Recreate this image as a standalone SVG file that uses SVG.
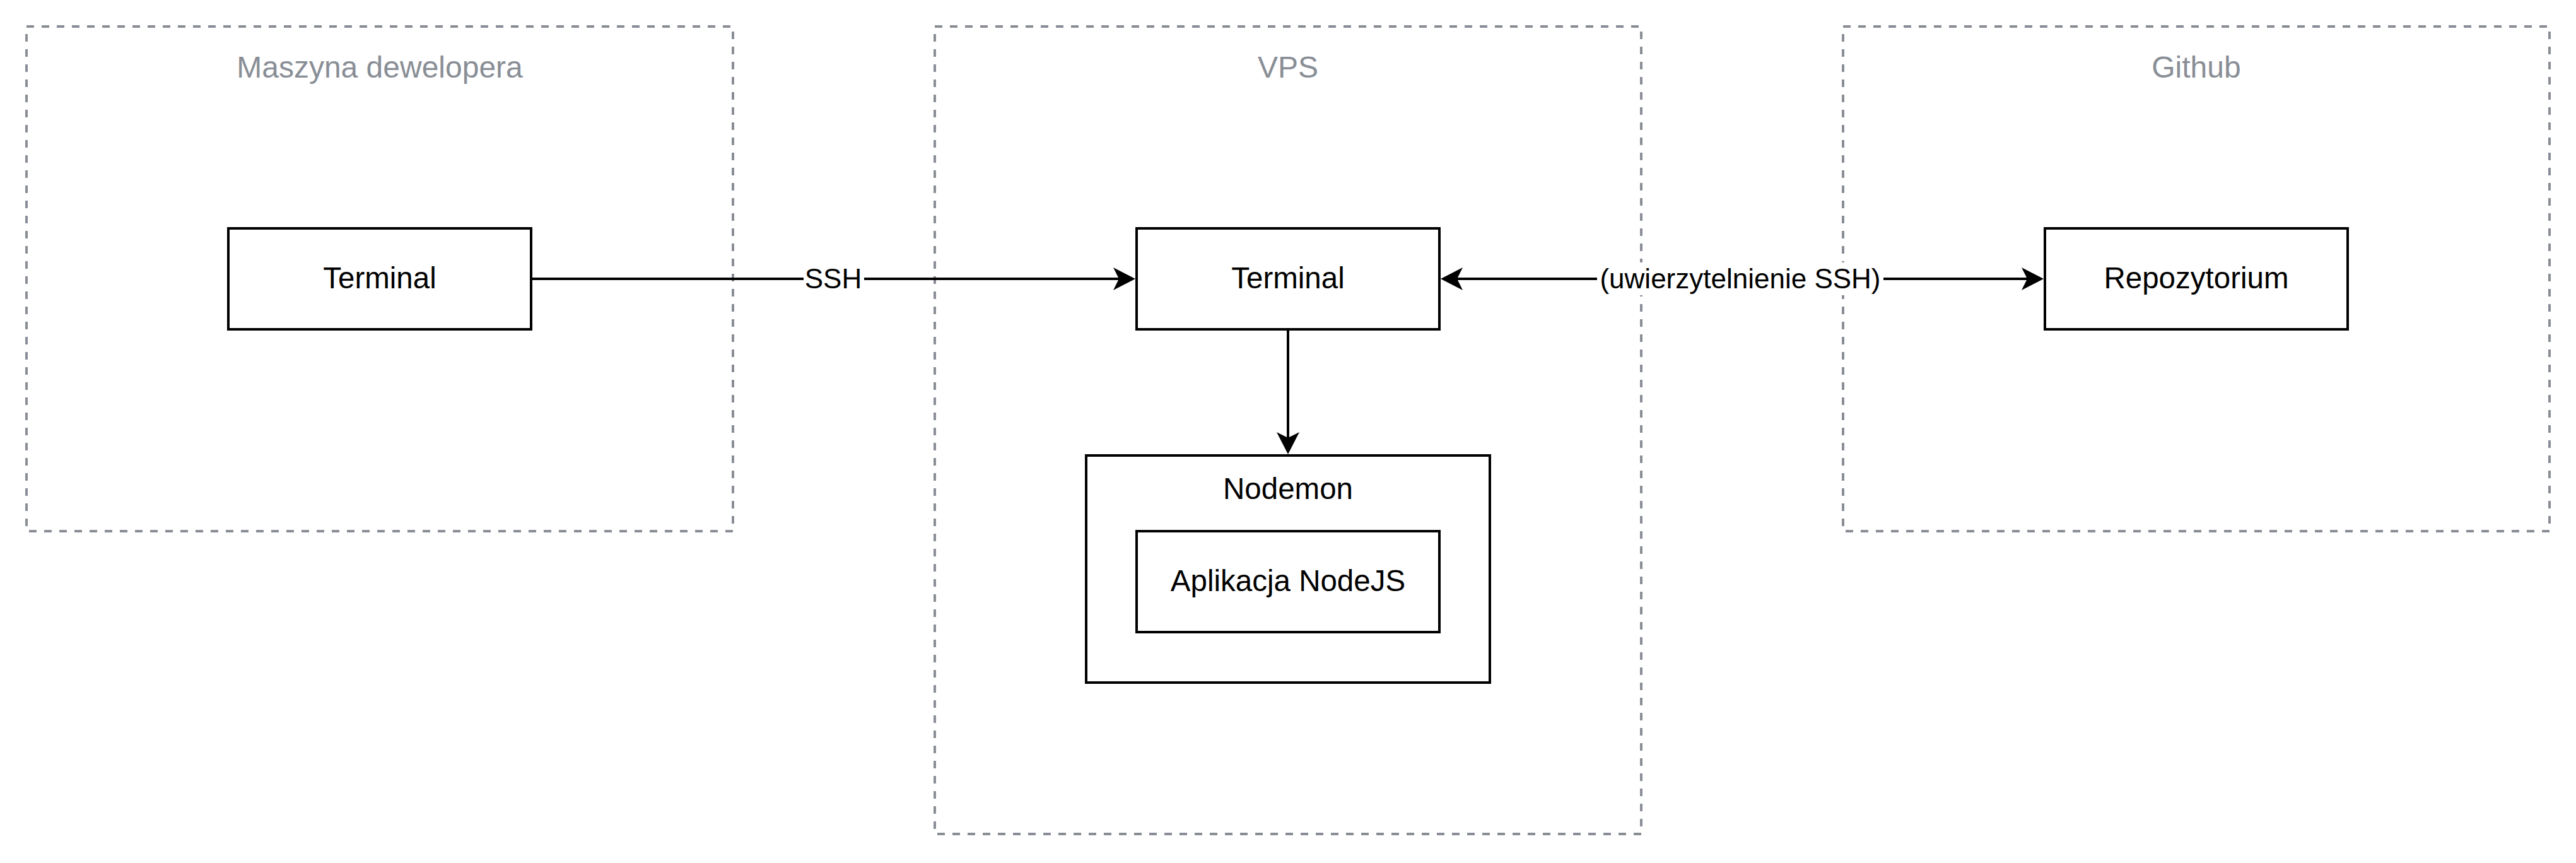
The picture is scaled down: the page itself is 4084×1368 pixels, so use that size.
<svg xmlns="http://www.w3.org/2000/svg" width="4084" height="1368" viewBox="0 0 4084 1368">
  <defs>
    <style>
      .container { fill: none; stroke: #898e96; stroke-width: 4; stroke-dasharray: 12 12; }
      .ctitle { fill: #898e96; font-family: "Liberation Sans", Arial, Helvetica, sans-serif; font-size: 48px; text-anchor: middle; }
      .box { fill: #ffffff; stroke: #000000; stroke-width: 4; }
      .label { fill: #000000; font-family: "Liberation Sans", Arial, Helvetica, sans-serif; font-size: 47.5px; text-anchor: middle; }
      .edge { fill: none; stroke: #000000; stroke-width: 4; }
      .elabel { fill: #000000; font-family: "Liberation Sans", Arial, Helvetica, sans-serif; font-size: 44px; text-anchor: middle; }
      .elabel-bg { fill: #ffffff; stroke: none; }
    </style>
    <marker id="arrow" markerUnits="userSpaceOnUse" viewBox="0 0 36 36" markerWidth="36" markerHeight="36" refX="9" refY="18" orient="auto-start-reverse">
      <path d="M0,0 L35,18 L0,36 L9,18 Z" fill="#000000" stroke="none"/>
    </marker>
  </defs>
  <rect width="4084" height="1368" fill="#ffffff"/>

  <g id="container-maszyna">
    <rect class="container" x="42" y="42" width="1120" height="800"/>
    <text class="ctitle" x="602" y="123">Maszyna dewelopera</text>
  </g>
  <g id="container-vps">
    <rect class="container" x="1482" y="42" width="1120" height="1280"/>
    <text class="ctitle" x="2042" y="123">VPS</text>
  </g>
  <g id="container-github">
    <rect class="container" x="2922" y="42" width="1120" height="800"/>
    <text class="ctitle" x="3482" y="123">Github</text>
  </g>

  <g id="node-terminal-dev">
    <rect class="box" x="362" y="362" width="480" height="160"/>
    <text class="label" x="602" y="457">Terminal</text>
  </g>
  <g id="node-terminal-vps">
    <rect class="box" x="1802" y="362" width="480" height="160"/>
    <text class="label" x="2042" y="457">Terminal</text>
  </g>
  <g id="node-nodemon">
    <rect class="box" x="1722" y="722" width="640" height="360"/>
    <text class="label" x="2042" y="791">Nodemon</text>
  </g>
  <g id="node-aplikacja">
    <rect class="box" x="1802" y="842" width="480" height="160"/>
    <text class="label" x="2042" y="937">Aplikacja NodeJS</text>
  </g>
  <g id="node-repozytorium">
    <rect class="box" x="3242" y="362" width="480" height="160"/>
    <text class="label" x="3482" y="457">Repozytorium</text>
  </g>

  <g id="connectors">
    <g id="edge-ssh">
      <line class="edge" x1="842" y1="442" x2="1774" y2="442" marker-end="url(#arrow)"/>
      <rect class="elabel-bg" x="1274" y="416" width="96" height="52"/>
      <text class="elabel" x="1321" y="457">SSH</text>
    </g>
    <g id="edge-nodemon">
      <line class="edge" x1="2042" y1="522" x2="2042" y2="694" marker-end="url(#arrow)"/>
    </g>
    <g id="edge-github">
      <line class="edge" x1="2310" y1="442" x2="3214" y2="442" marker-start="url(#arrow)" marker-end="url(#arrow)"/>
      <rect class="elabel-bg" x="2532" y="416" width="454" height="52"/>
      <text class="elabel" x="2759" y="457">(uwierzytelnienie SSH)</text>
    </g>
  </g>
</svg>
